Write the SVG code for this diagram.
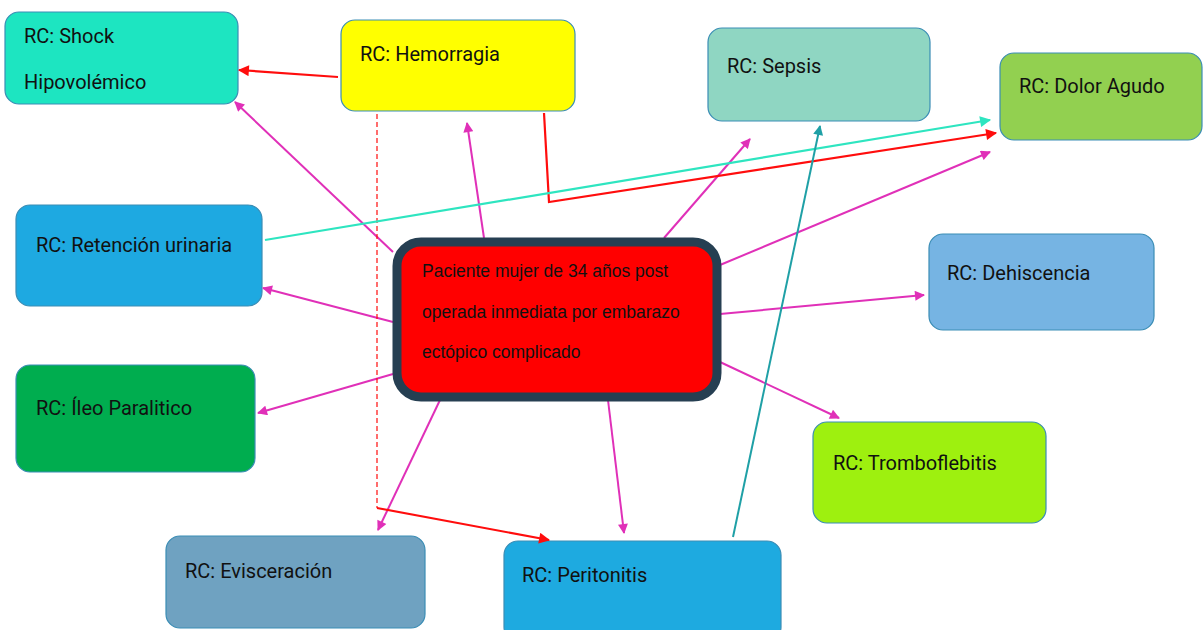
<svg xmlns="http://www.w3.org/2000/svg" width="1204" height="630" viewBox="0 0 1204 630">
<defs>
<style>
.n{stroke:#3b8db5;stroke-width:1.2}
.t{font-family:Roboto,"Liberation Sans",sans-serif;font-size:20px;fill:#111}
.ct{font-family:"Liberation Sans",Arial,sans-serif;font-size:17.5px;fill:#111}
.m{stroke:#e030b8;stroke-width:2;fill:none;marker-end:url(#am)}
.r{stroke:#ff0d0d;stroke-width:2.2;fill:none}
</style>
<marker id="am" viewBox="0 0 10 10" refX="9" refY="5" markerWidth="6" markerHeight="5" markerUnits="strokeWidth" orient="auto"><path d="M0,0L10,5L0,10z" fill="#e030b8"/></marker>
<marker id="ar" viewBox="0 0 10 10" refX="9" refY="5" markerWidth="6" markerHeight="5" markerUnits="strokeWidth" orient="auto"><path d="M0,0L10,5L0,10z" fill="#ff0d0d"/></marker>
<marker id="ac" viewBox="0 0 10 10" refX="9" refY="5" markerWidth="6" markerHeight="5" markerUnits="strokeWidth" orient="auto"><path d="M0,0L10,5L0,10z" fill="#2ee5c0"/></marker>
<marker id="at" viewBox="0 0 10 10" refX="9" refY="5" markerWidth="6" markerHeight="5" markerUnits="strokeWidth" orient="auto"><path d="M0,0L10,5L0,10z" fill="#1fa0a6"/></marker>
</defs>
<rect width="1204" height="630" fill="#fff"/>
<g id="nodes">
<g id="shock"><rect class="n" x="5" y="12" width="233" height="92" rx="14" fill="#1de5c1"/><text class="t" x="24" y="43">RC: Shock</text><text class="t" x="24" y="89">Hipovolémico</text></g>
<g id="hemorragia"><rect class="n" x="341" y="20" width="234" height="91" rx="14" fill="#ffff00"/><text class="t" x="360" y="61">RC: Hemorragia</text></g>
<g id="sepsis"><rect class="n" x="708" y="28" width="222" height="93" rx="14" fill="#8fd6c2"/><text class="t" x="727" y="73">RC: Sepsis</text></g>
<g id="dolor"><rect class="n" x="1000" y="53" width="202" height="87" rx="14" fill="#92d050"/><text class="t" x="1019" y="93">RC: Dolor Agudo</text></g>
<g id="retencion"><rect class="n" x="16" y="205" width="246" height="101" rx="14" fill="#1ea9e1"/><text class="t" x="36" y="252">RC: Retención urinaria</text></g>
<g id="dehiscencia"><rect class="n" x="929" y="234" width="225" height="96" rx="14" fill="#76b4e3"/><text class="t" x="947" y="280">RC: Dehiscencia</text></g>
<g id="ileo"><rect class="n" x="16" y="365" width="239" height="107" rx="14" fill="#00ad4f"/><text class="t" x="36" y="415">RC: Íleo Paralitico</text></g>
<g id="tromboflebitis"><rect class="n" x="813" y="422" width="233" height="101" rx="14" fill="#9ef00f"/><text class="t" x="833" y="470">RC: Tromboflebitis</text></g>
<g id="evisceracion"><rect class="n" x="166" y="536" width="259" height="92" rx="14" fill="#6fa2c1"/><text class="t" x="185" y="578">RC: Evisceración</text></g>
<g id="peritonitis"><rect class="n" x="504" y="541" width="277" height="100" rx="14" fill="#1eaae0"/><text class="t" x="522" y="582">RC: Peritonitis</text></g>
</g>
<g id="connectors">
<line class="m" x1="393" y1="252" x2="235" y2="102"/>
<line class="m" x1="484" y1="238" x2="467" y2="123"/>
<line class="m" x1="664" y1="238" x2="750" y2="139"/>
<line class="m" x1="720" y1="265" x2="990" y2="152"/>
<line class="m" x1="720" y1="314" x2="924" y2="295"/>
<line class="m" x1="720" y1="362" x2="839" y2="418"/>
<line class="m" x1="608" y1="400" x2="624" y2="533"/>
<line class="m" x1="440" y1="400" x2="378" y2="530"/>
<line class="m" x1="393" y1="374" x2="258" y2="413"/>
<line class="m" x1="393" y1="322" x2="263" y2="288"/>
<line class="r" x1="338" y1="77" x2="239" y2="70" marker-end="url(#ar)"/>
<polyline class="r" points="544,113 549,202 996,133" marker-end="url(#ar)"/>
<line x1="377" y1="114" x2="377" y2="508" stroke="#ff0d0d" stroke-width="1.2" stroke-dasharray="5,3"/>
<line class="r" x1="377" y1="508" x2="549" y2="540" marker-end="url(#ar)"/>
<line x1="265" y1="240" x2="990" y2="120" stroke="#2ee5c0" stroke-width="2.2" marker-end="url(#ac)"/>
<line x1="733" y1="537" x2="820" y2="126" stroke="#1fa0a6" stroke-width="2" marker-end="url(#at)"/>
</g>
<g id="center"><rect x="397" y="242" width="320" height="155" rx="24" fill="#ff0000" stroke="#263f52" stroke-width="9"/>
<text class="ct" x="422" y="277">Paciente mujer de 34 años post</text>
<text class="ct" x="422" y="318">operada inmediata por embarazo</text>
<text class="ct" x="422" y="358">ectópico complicado</text></g>
</svg>
